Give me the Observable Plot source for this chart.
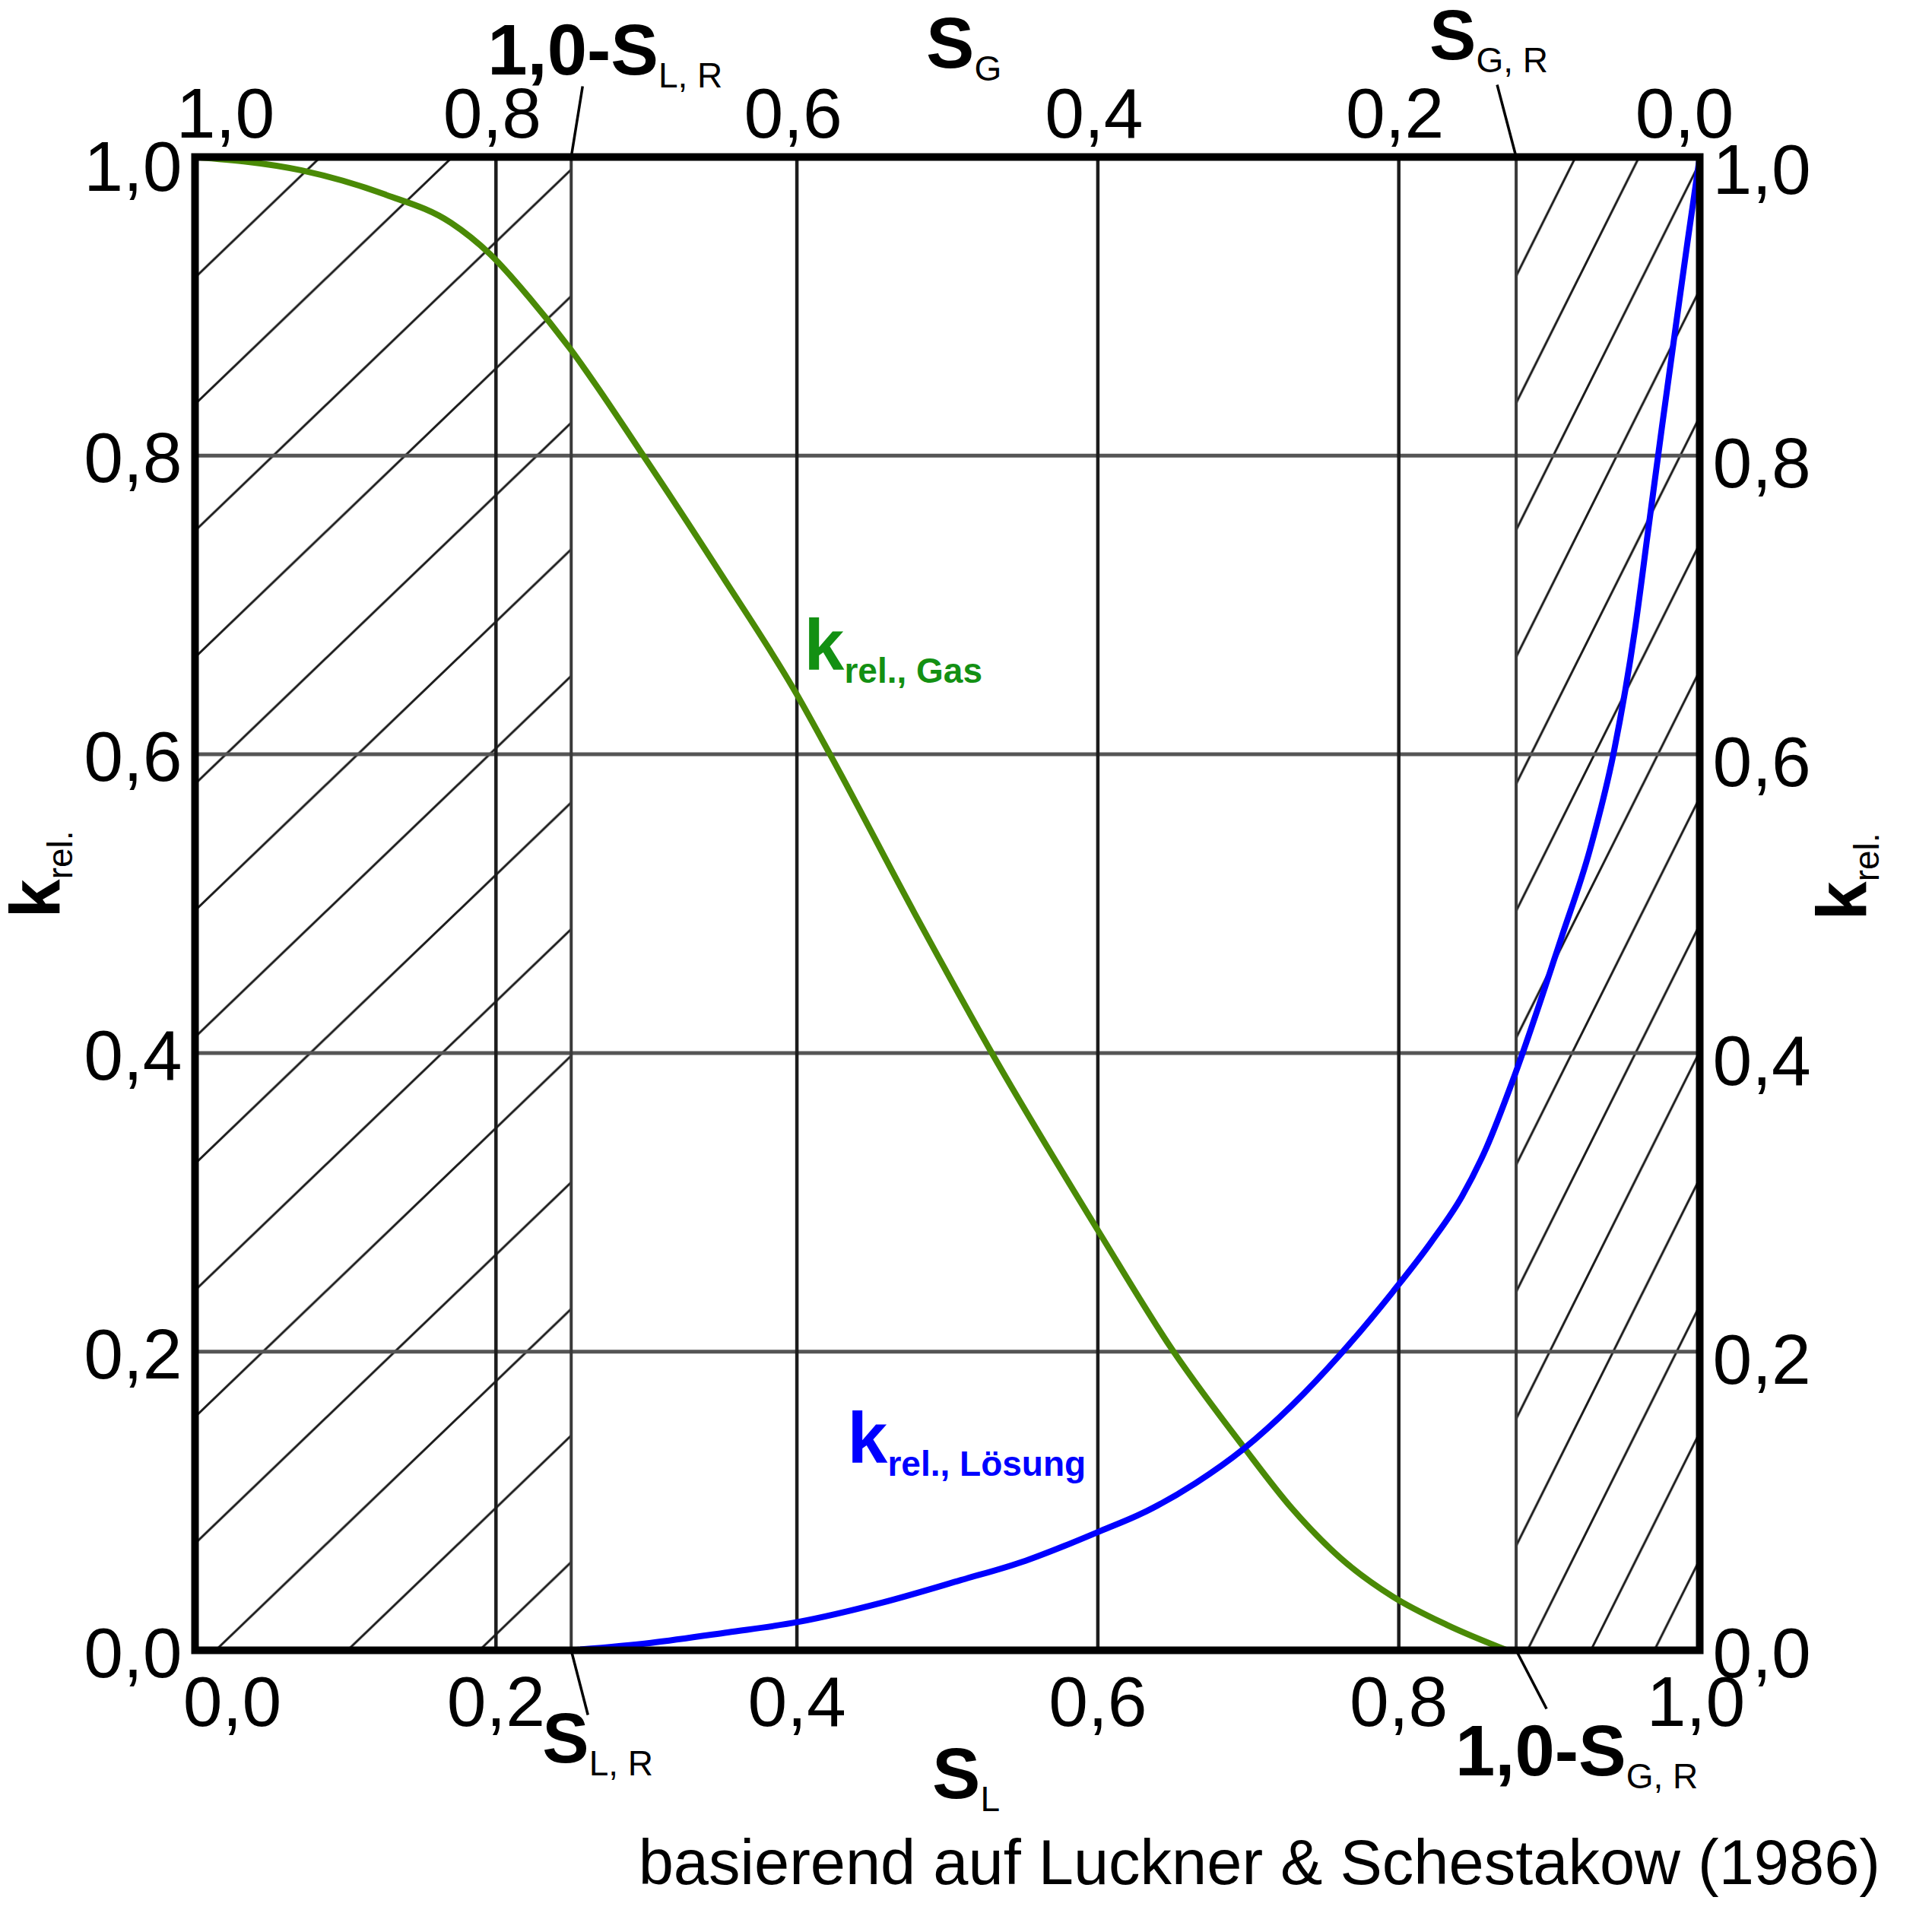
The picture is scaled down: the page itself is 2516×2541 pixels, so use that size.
<!DOCTYPE html>
<html>
<head>
<meta charset="utf-8">
<script src="https://cdn.jsdelivr.net/npm/d3@7"></script>
<script src="https://cdn.jsdelivr.net/npm/@observablehq/plot@0.6"></script>
<style>
  html, body { margin: 0; padding: 0; background: #fff; overflow: hidden; }
  #caption {
    font-family: "Liberation Sans", Arial, Helvetica, sans-serif;
    font-size: 83px; line-height: 100px; text-align: right;
    padding-right: 43px; color: #000; white-space: nowrap;
  }
</style>
</head>
<body>
<div id="chart"></div>
<div id="caption">basierend auf Luckner &amp; Schestakow (1986)</div>
<script>
// ---------- data ----------
const S_L_gas = [0, 0.071, 0.126, 0.170, 0.196, 0.222, 0.249, 0.296, 0.350, 0.400, 0.422, 0.478, 0.529, 0.602, 0.649, 0.697, 0.729, 0.761, 0.796, 0.832, 0.872];
const k_gas   = [1.000, 0.991, 0.975, 0.956, 0.935, 0.906, 0.872, 0.803, 0.720, 0.640, 0.600, 0.494, 0.401, 0.278, 0.202, 0.136, 0.095, 0.062, 0.036, 0.017, 0.000];

const S_L_sol = [0.250, 0.303, 0.354, 0.401, 0.457, 0.509, 0.552, 0.578, 0.602, 0.632, 0.665, 0.697, 0.729, 0.761, 0.796, 0.822, 0.842, 0.858, 0.877, 0.908, 0.927, 0.943, 0.957, 0.966, 0.975, 0.984, 0.992, 1.000];
const k_sol   = [0.000, 0.005, 0.012, 0.019, 0.032, 0.047, 0.060, 0.070, 0.080, 0.093, 0.112, 0.135, 0.164, 0.198, 0.240, 0.274, 0.304, 0.336, 0.385, 0.477, 0.536, 0.602, 0.684, 0.752, 0.820, 0.886, 0.944, 1.000];

const S_LR = 0.25;   // residual liquid saturation
const S_GR = 0.122;  // residual gas saturation

const ticks = [0, 0.2, 0.4, 0.6, 0.8, 1.0];
const labelsSL = ["0,0", "0,2", "0,4", "0,6", "0,8", "1,0"];
const labelsSG = ["1,0", "0,8", "0,6", "0,4", "0,2", "0,0"];
const labelsK  = ["0,0", "0,2", "0,4", "0,6", "0,8", "1,0"];

// ---------- layout ----------
const W = 2516, H = 2400;
const mL = 256, mR = 2516 - 2235, mT = 206, mB = H - 2170;
const ux = 1 / (W - mL - mR), uy = 1 / (H - mT - mB); // data units per pixel
const FONT = '"Liberation Sans", Arial, Helvetica, sans-serif';
const GREEN_LINE = "#4a8a06", GREEN_TEXT = "#139013", BLUE = "#0000ff";

const gas = S_L_gas.map((s, i) => ({s, k: k_gas[i]}));
const sol = S_L_sol.map((s, i) => ({s, k: k_sol[i]}));
const tk = (labels) => ticks.map((t, i) => ({t, label: labels[i]}));
const bottomT = tk(labelsSL), topT = tk(labelsSG), sideT = tk(labelsK);

const leaders = [
  {x1: S_LR, y1: 1, x2: S_LR + 15 * ux, y2: 1 + 93 * uy},
  {x1: 1 - S_GR, y1: 1, x2: 1 - S_GR - 25 * ux, y2: 1 + 95 * uy},
  {x1: S_LR, y1: 0, x2: S_LR + 22 * ux, y2: -85 * uy},
  {x1: 1 - S_GR, y1: 0, x2: 1 - S_GR + 40 * ux, y2: -77 * uy}
];

const TICK = {fontSize: 93, lineAnchor: "bottom", text: "label", fill: "black"};
const BIG = {fontSize: 94, fontWeight: "bold", lineAnchor: "bottom", textAnchor: "start", text: d => d, fill: "black"};

const plot = Plot.plot({
  width: W, height: H,
  marginLeft: mL, marginRight: mR, marginTop: mT, marginBottom: mB,
  x: {domain: [0, 1], axis: null},
  y: {domain: [0, 1], axis: null},
  style: {fontFamily: FONT, background: "white", overflow: "visible"},
  marks: [
    // hatched residual-saturation zones
    Plot.rect([0], {x1: 0, x2: S_LR, y1: 0, y2: 1, fill: "url(#hatchL)"}),
    Plot.rect([0], {x1: 1 - S_GR, x2: 1, y1: 0, y2: 1, fill: "url(#hatchR)"}),
    // grid
    Plot.ruleY(ticks.slice(1, -1), {stroke: "#555", strokeWidth: 5}),
    Plot.ruleX(ticks.slice(1, -1), {stroke: "#1c1c1c", strokeWidth: 4.5}),
    Plot.ruleX([S_LR, 1 - S_GR], {stroke: "#3a3a3a", strokeWidth: 4}),
    // curves
    Plot.line(gas, {x: "s", y: "k", stroke: GREEN_LINE, strokeWidth: 8, curve: "monotone-x"}),
    Plot.line(sol, {x: "s", y: "k", stroke: BLUE, strokeWidth: 8, curve: "monotone-x"}),
    Plot.frame({stroke: "black", strokeWidth: 10}),
    // leader lines
    Plot.link(leaders, {x1: "x1", y1: "y1", x2: "x2", y2: "y2", stroke: "black", strokeWidth: 3.5}),
    // bottom ticks (S_L)
    Plot.text(bottomT.slice(1, -1), {...TICK, x: "t", frameAnchor: "bottom", dy: 99}),
    Plot.text(bottomT.slice(0, 1), {...TICK, x: "t", frameAnchor: "bottom", dy: 99, dx: 49}),
    Plot.text(bottomT.slice(-1), {...TICK, x: "t", frameAnchor: "bottom", dy: 99, dx: -5}),
    // top ticks (S_G)
    Plot.text(topT.slice(1, -1), {...TICK, x: "t", frameAnchor: "top", dy: -26, dx: -5}),
    Plot.text(topT.slice(0, 1), {...TICK, x: "t", frameAnchor: "top", dy: -26, dx: 40}),
    Plot.text(topT.slice(-1), {...TICK, x: "t", frameAnchor: "top", dy: -26, dx: -20}),
    // left ticks
    Plot.text(sideT.slice(0, -1), {...TICK, y: "t", frameAnchor: "left", textAnchor: "end", dx: -17, dy: 35}),
    Plot.text(sideT.slice(-1), {...TICK, y: "t", frameAnchor: "left", textAnchor: "end", dx: -17, dy: 44}),
    // right ticks
    Plot.text(sideT.slice(1, -1), {...TICK, y: "t", frameAnchor: "right", textAnchor: "start", dx: 17, dy: 42}),
    Plot.text(sideT.slice(0, 1), {...TICK, y: "t", frameAnchor: "right", textAnchor: "start", dx: 17, dy: 35}),
    Plot.text(sideT.slice(-1), {...TICK, y: "t", frameAnchor: "right", textAnchor: "start", dx: 17, dy: 48}),
    // axis titles
    Plot.text(["S|G"], {...BIG, x: 0.5, frameAnchor: "top", dx: -28, dy: -118, fontSize: 95}),
    Plot.text(["S|L"], {...BIG, x: 0.5, frameAnchor: "bottom", dx: -20, dy: 194, fontSize: 95}),
    Plot.text(["k|rel."], {...BIG, y: 0.5, frameAnchor: "left", rotate: -90, dx: -179, dy: 19, fontSize: 92}),
    Plot.text(["k|rel."], {...BIG, y: 0.5, frameAnchor: "right", rotate: -90, dx: 218, dy: 22, fontSize: 92}),
    // residual saturation annotations
    Plot.text(["1,0-S|L, R"], {...BIG, x: S_LR, frameAnchor: "top", dx: -110, dy: -109}),
    Plot.text(["S|G, R"], {...BIG, x: 1 - S_GR, frameAnchor: "top", dx: -114, dy: -129, fontSize: 92}),
    Plot.text(["S|L, R"], {...BIG, x: S_LR, frameAnchor: "bottom", dx: -38, dy: 147, fontSize: 92}),
    Plot.text(["1,0-S|G, R"], {...BIG, x: 1 - S_GR, frameAnchor: "bottom", dx: -80, dy: 164}),
    // curve labels
    Plot.text(["k|rel., Gas"], {...BIG, x: 0.4048, y: 0.6568, fill: GREEN_TEXT, fontSize: 95}),
    Plot.text(["k|rel., Lösung"], {...BIG, x: 0.4336, y: 0.1253, fill: BLUE, fontSize: 95})
  ]
});

// ---------- hatch patterns positioned from the plot scales ----------
const sx = plot.scale("x"), sy = plot.scale("y");
const NS = "http://www.w3.org/2000/svg";
function makePattern(id, ox, oy, w, h) {
  const p = document.createElementNS(NS, "pattern");
  p.setAttribute("id", id);
  p.setAttribute("patternUnits", "userSpaceOnUse");
  p.setAttribute("x", ox); p.setAttribute("y", oy);
  p.setAttribute("width", w); p.setAttribute("height", h);
  const path = document.createElementNS(NS, "path");
  const seg = (k) => `M${-w},${(2 + k) * h}L${2 * w},${(k - 1) * h}`;
  path.setAttribute("d", seg(-1) + seg(0) + seg(1));
  path.setAttribute("stroke", "#1a1a1a");
  path.setAttribute("stroke-width", 3);
  path.setAttribute("fill", "none");
  p.appendChild(path);
  return p;
}
const defs = document.createElementNS(NS, "defs");
const frameTop = sy.apply(1);
defs.appendChild(makePattern("hatchL", sx.apply(0), frameTop - 7, 166.5 / 0.96, 166.5));
defs.appendChild(makePattern("hatchR", sx.apply(1 - S_GR), frameTop - 9, 167 / 2, 167));
plot.insertBefore(defs, plot.firstChild);

// ---------- subscripts: "main|sub" -> main + lowered tspan ----------
const boldSubs = new Set(["rel., Gas", "rel., Lösung"]);
plot.querySelectorAll("text").forEach(t => {
  const s = t.textContent;
  if (!s.includes("|")) return;
  const [main, sub] = s.split("|");
  t.textContent = main;
  const ts = document.createElementNS(NS, "tspan");
  ts.textContent = sub;
  ts.setAttribute("font-size", 46);
  ts.setAttribute("dy", 17);
  ts.setAttribute("font-weight", boldSubs.has(sub) ? "bold" : "normal");
  t.appendChild(ts);
});

document.getElementById("chart").appendChild(plot);
</script>
</body>
</html>
